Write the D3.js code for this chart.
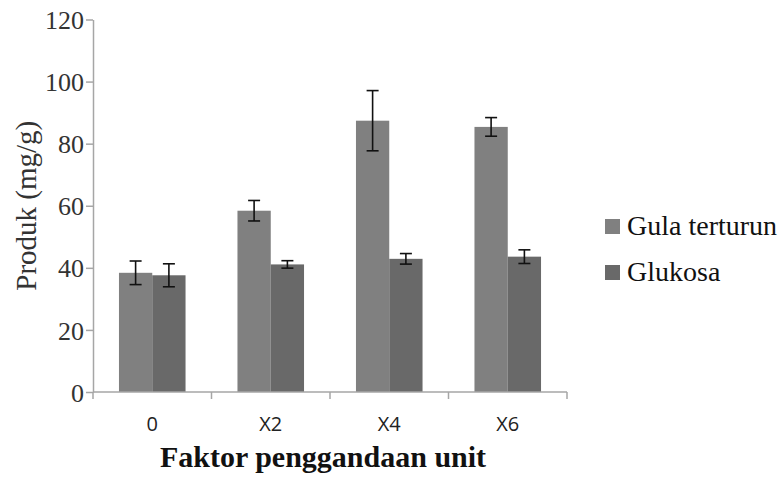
<!DOCTYPE html>
<html>
<head>
<meta charset="utf-8">
<script src="https://cdn.jsdelivr.net/npm/d3@7/dist/d3.min.js"></script>
<style>
  body { margin: 0; background: #fff; }
  svg { display: block; }
  .serif { font-family: 'Liberation Serif', 'DejaVu Serif', serif; }
  .sans { font-family: 'Open Sans', 'Liberation Sans', sans-serif; }
</style>
</head>
<body>
<div id="chart"></div>
<script>
// Data
const categories = ['0', 'X2', 'X4', 'X6'];
const seriesNames = ['Gula terturun', 'Glukosa'];
const gulaValues = [38.4, 58.4, 87.4, 85.4];
const gulaErrors = [3.8, 3.3, 9.7, 3.0];
const glukosaValues = [37.6, 41.1, 42.9, 43.6];
const glukosaErrors = [3.7, 1.2, 1.7, 2.2];
const yTicks = [0, 20, 40, 60, 80, 100, 120];
const colors = ['#808080', '#696969'];

const width = 782;
const height = 479;
const margin = { top: 19.5, left: 93, right: 215, bottom: 87 };

const svg = d3.select('#chart')
    .append('svg')
    .attr('width', width)
    .attr('height', height);

const x = d3.scaleBand()
    .domain(categories)
    .range([margin.left, width - margin.right])
    .paddingInner(0)
    .paddingOuter(0);

const y = d3.scaleLinear()
    .domain([0, 120])
    .range([height - margin.bottom, margin.top]);

// Inner band for the two series
const x1 = d3.scaleBand()
    .domain(seriesNames)
    .range([0, x.bandwidth()])
    .paddingOuter(0.78)
    .paddingInner(0);

const rows = categories.map((c, i) => ({
    cat: c,
    vals: [
        { name: seriesNames[0], value: gulaValues[i], err: gulaErrors[i], color: colors[0] },
        { name: seriesNames[1], value: glukosaValues[i], err: glukosaErrors[i], color: colors[1] }
    ]
}));

const groups = svg.append('g')
    .selectAll('g')
    .data(rows)
    .enter()
    .append('g')
    .attr('transform', d => `translate(${x(d.cat)},0)`);

groups.selectAll('rect')
    .data(d => d.vals)
    .enter()
    .append('rect')
    .attr('x', d => x1(d.name))
    .attr('width', x1.bandwidth())
    .attr('y', d => y(d.value))
    .attr('height', d => y(0) - y(d.value))
    .attr('fill', d => d.color);

// Error bars
const capW = 6;
const err = groups.selectAll('g.err')
    .data(d => d.vals)
    .enter()
    .append('g')
    .attr('class', 'err')
    .attr('stroke', '#111')
    .attr('stroke-width', 1.6);

err.append('line')
    .attr('x1', d => x1(d.name) + x1.bandwidth() / 2)
    .attr('x2', d => x1(d.name) + x1.bandwidth() / 2)
    .attr('y1', d => y(d.value + d.err))
    .attr('y2', d => y(d.value - d.err));
err.append('line')
    .attr('x1', d => x1(d.name) + x1.bandwidth() / 2 - capW)
    .attr('x2', d => x1(d.name) + x1.bandwidth() / 2 + capW)
    .attr('y1', d => y(d.value + d.err))
    .attr('y2', d => y(d.value + d.err));
err.append('line')
    .attr('x1', d => x1(d.name) + x1.bandwidth() / 2 - capW)
    .attr('x2', d => x1(d.name) + x1.bandwidth() / 2 + capW)
    .attr('y1', d => y(d.value - d.err))
    .attr('y2', d => y(d.value - d.err));

// Y axis
const yAxis = svg.append('g')
    .attr('transform', `translate(${margin.left},0)`)
    .call(d3.axisLeft(y).tickValues(yTicks).tickSize(7).tickPadding(2).tickSizeOuter(0));
yAxis.attr('font-family', null).attr('font-size', null);
yAxis.select('.domain').attr('stroke', '#a6a6a6').attr('stroke-width', 1.5);
yAxis.selectAll('.tick line').attr('stroke', '#a6a6a6').attr('stroke-width', 1.5);
yAxis.selectAll('.tick text')
    .attr('class', 'serif')
    .style('font-size', '26px')
    .attr('fill', '#333')
    .attr('dy', '0.35em');

// X axis with ticks at category boundaries
const xAxisG = svg.append('g')
    .attr('transform', `translate(0,${y(0)})`);
xAxisG.append('line')
    .attr('x1', margin.left)
    .attr('x2', width - margin.right)
    .attr('stroke', '#a6a6a6')
    .attr('stroke-width', 1.5);
const boundaries = categories.map(c => x(c)).concat([x(categories[categories.length - 1]) + x.bandwidth()]);
xAxisG.selectAll('line.tick')
    .data(boundaries)
    .enter()
    .append('line')
    .attr('class', 'tick')
    .attr('x1', d => d)
    .attr('x2', d => d)
    .attr('y1', 0)
    .attr('y2', 7)
    .attr('stroke', '#a6a6a6')
    .attr('stroke-width', 1.5);
xAxisG.selectAll('text')
    .data(categories)
    .enter()
    .append('text')
    .attr('class', 'sans')
    .attr('x', d => x(d) + x.bandwidth() / 2)
    .attr('y', 39)
    .attr('text-anchor', 'middle')
    .style('font-size', '20px')
    .attr('fill', '#222')
    .text(d => d);

// Axis titles
svg.append('text')
    .attr('class', 'serif')
    .attr('x', 323)
    .attr('y', 467)
    .attr('text-anchor', 'middle')
    .style('font-weight', 'bold')
    .style('font-size', '30px')
    .attr('fill', '#111')
    .text('Faktor penggandaan unit');

svg.append('text')
    .attr('class', 'serif')
    .attr('transform', `translate(36,${(y(0) + y(120)) / 2}) rotate(-90)`)
    .attr('text-anchor', 'middle')
    .style('font-size', '29px')
    .attr('fill', '#333')
    .text('Produk (mg/g)');

// Legend
const legend = svg.append('g')
    .attr('transform', 'translate(605,219)');
const items = legend.selectAll('g')
    .data(seriesNames)
    .enter()
    .append('g')
    .attr('transform', (d, i) => `translate(0,${i * 46})`);
items.append('rect')
    .attr('width', 15)
    .attr('height', 15)
    .attr('fill', (d, i) => colors[i]);
items.append('text')
    .attr('class', 'serif')
    .attr('x', 22)
    .attr('y', 16)
    .style('font-size', '28px')
    .attr('fill', '#111')
    .text(d => d);
</script>
</body>
</html>
